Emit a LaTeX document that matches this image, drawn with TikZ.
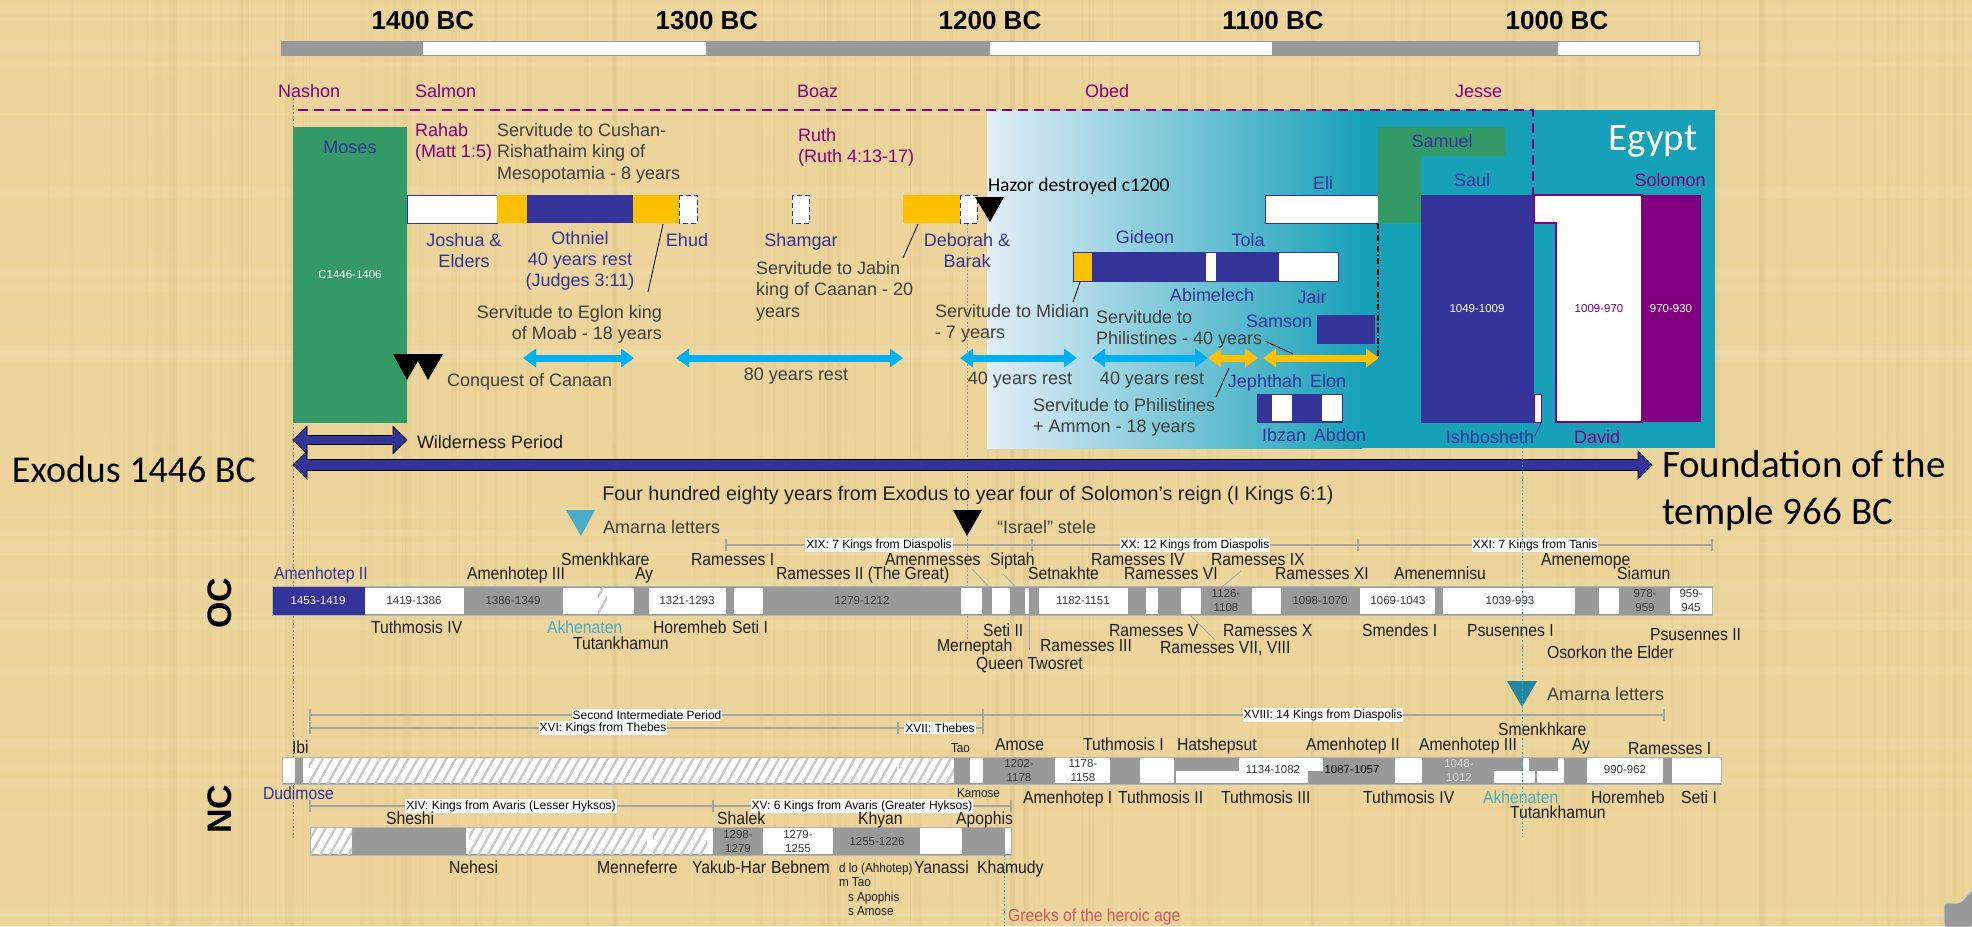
\documentclass[tikz,border=0pt]{standalone}
\usepackage{fontspec}
\setmainfont{Liberation Sans}
\newfontfamily\labfont[FakeStretch=0.9]{Liberation Sans}
\newfontfamily\calfont{Carlito}
\usetikzlibrary{arrows.meta}
\definecolor{paper}{RGB}{236,212,154}
\definecolor{fiber}{RGB}{190,160,95}
\definecolor{navy}{RGB}{51,51,153}
\definecolor{gold}{RGB}{255,192,0}
\definecolor{sky}{RGB}{0,176,240}
\definecolor{mgreen}{RGB}{51,153,102}
\definecolor{purp}{RGB}{128,0,128}
\definecolor{teal2}{RGB}{23,161,185}
\definecolor{eL}{RGB}{226,238,248}
\definecolor{gbar}{RGB}{153,153,153}
\definecolor{amar}{RGB}{75,172,198}
\definecolor{amar2}{RGB}{35,135,160}
\definecolor{txt}{RGB}{30,30,30}
\definecolor{dg}{RGB}{64,64,64}
\definecolor{ntxt}{RGB}{60,60,60}
\definecolor{redt}{RGB}{214,86,86}
\definecolor{brk}{RGB}{165,165,165}
\definecolor{hatchc}{RGB}{200,200,200}
\tikzset{
  bx/.style={inner sep=0pt, outer sep=0pt},
  ttop/.style={bx, font=\fontsize{18}{21.5}\selectfont},
  tlab/.style={bx, font=\labfont\fontsize{17.5}{20}\selectfont, text=txt},
  tsmall/.style={bx, font=\labfont\fontsize{13}{14.5}\selectfont, text=txt},
  tnum/.style={bx, font=\fontsize{11.5}{13.5}\selectfont, text=ntxt, align=center},
  tbr/.style={font=\fontsize{12}{14}\selectfont, text=black, fill=white, inner xsep=1pt, inner ysep=1.5pt},
  yr/.style={bx, font=\bfseries\fontsize{26}{28}\selectfont, anchor=base, yshift=-9.3pt},
  bw/.style={anchor=base west, yshift=-6.3pt},
  bc/.style={anchor=base, yshift=-6.3pt},
  be/.style={anchor=base east, yshift=-6.3pt},
  sbw/.style={anchor=base west, yshift=-4.6pt},
  dbox/.style={fill=white, draw=navy, line width=1pt, dash pattern=on 5pt off 3pt},
  sarrow/.style={line width=7pt, arrows={Triangle[width=18pt,length=13pt]-Triangle[width=18pt,length=13pt]}},
  leader/.style={line width=0.8pt, draw=black},
  gleader/.style={line width=0.8pt, draw=black!35},
  brkline/.style={draw=brk, line width=1.2pt},
}
\newcommand\hatchrect[4]{%
  \fill[white] (#1,#2) rectangle (#3,#4);
  \begin{scope}
    \clip (#1,#2) rectangle (#3,#4);
    \foreach \k in {0,9.5,...,650} \draw[hatchc, line width=2.3pt] ({#1-20+\k},#4+2) -- ++(18,-32);
  \end{scope}}
\begin{document}
\begin{tikzpicture}[x=1pt,y=-1pt]
\useasboundingbox (0,0) rectangle (1972,926);
\fill[paper] (0,0) rectangle (1972,926);
% papyrus fibres
\pgfmathsetseed{42}
\foreach \i in {1,...,140} {
  \pgfmathsetmacro\xx{rnd*1972}
  \pgfmathsetmacro\ww{1+rnd*5}
  \pgfmathsetmacro\oo{0.03+rnd*0.07}
  \fill[fiber, opacity=\oo] (\xx,0) rectangle ++(\ww,926);
}
\foreach \i in {1,...,40} {
  \pgfmathsetmacro\yy{rnd*926}
  \pgfmathsetmacro\hh{2+rnd*10}
  \pgfmathsetmacro\oo{0.03+rnd*0.05}
  \fill[white, opacity=\oo] (0,\yy) rectangle ++(1972,\hh);
}

% ---------- time scale
\fill[white] (281,41) rectangle (1699,55);
\fill[gbar] (281,41) rectangle (423,55);
\fill[gbar] (706,41) rectangle (990,55);
\fill[gbar] (1272,41) rectangle (1558,55);
\draw[gbar, line width=1pt] (281,41) rectangle (1699,55);
\node[yr] (y1400) at (423,20) {1400 BC};
\node[yr] (y1300) at (707,20) {1300 BC};
\node[yr] (y1200) at (990,20) {1200 BC};
\node[yr] (y1100) at (1273,20) {1100 BC};
\node[yr] (y1000) at (1557,20) {1000 BC};

% ---------- Egypt background
\shade[left color=eL, right color=teal2] (987,110) rectangle (1362,448);
\fill[teal2] (1361,110) rectangle (1715,448);
\node[bx, font=\calfont\fontsize{39}{42}\selectfont, text=white, anchor=base, yshift=-12.6pt] (egypt) at (1653,138) {Egypt};

% ---------- guide lines
\draw[black!55, line width=0.8pt, dash pattern=on 1.5pt off 2pt] (293,98) -- (293,837);
\draw[black!45, line width=0.8pt, dash pattern=on 1.5pt off 2pt] (967,224) -- (967,640);
\draw[purp, line width=1.5pt, dash pattern=on 10pt off 6pt] (298,110) -- (1533,110) -- (1533,195);
\draw[black, line width=1.2pt, dash pattern=on 6pt off 2pt on 1.5pt off 2pt] (1378,223) -- (1378,358);

% ---------- genealogy
\node[ttop, text=purp, bw] (nashon) at (278,91) {Nashon};
\node[ttop, text=purp, bw] (salmon) at (415,91) {Salmon};
\node[ttop, text=purp, bw] (boaz) at (797,91) {Boaz};
\node[ttop, text=purp, bw] (obed) at (1085,91) {Obed};
\node[ttop, text=purp, bw] (jesse) at (1455,91) {Jesse};
\node[ttop, text=purp, anchor=north west, align=left] (rahab) at (415,123.3) {Rahab\\(Matt 1:5)};
\node[ttop, text=purp, anchor=north west, align=left] (ruth) at (798,128.3) {Ruth\\(Ruth 4:13-17)};
\node[ttop, text=dg, anchor=north west, align=left] (cushan) at (497,123.3) {Servitude to Cushan-\\Rishathaim king of\\Mesopotamia - 8 years};

% ---------- Moses
\fill[mgreen] (293,127) rectangle (407,423);
\node[ttop, text=navy, bc] (moses) at (350,147) {Moses};
\node[tnum, text=white] (mosesd) at (350,275) {C1446-1406};

% ---------- judges row 1
\draw[navy, fill=white, line width=1pt] (407,195) rectangle (497,223);
\fill[gold] (497,195) rectangle (527,223);
\fill[navy] (527,195) rectangle (633,223);
\fill[gold] (633,195) rectangle (679,223);
\draw[dbox] (679,195) rectangle (697,223);
\draw[dbox] (792,195) rectangle (809,223);
\fill[gold] (903,195) rectangle (960,223);
\draw[dbox] (960,195) rectangle (977,223);
\fill[black] (975,197) -- (1004,197) -- (990,222) -- cycle;
\node[bx, font=\calfont\fontsize{19.5}{22}\selectfont, text=black, anchor=base west, yshift=-6.3pt] (hazor) at (988,185) {Hazor destroyed c1200};

\node[ttop, text=navy, anchor=north, align=center] (joshua) at (464,233.3) {Joshua \&\\Elders};
\node[ttop, text=navy, anchor=north, align=center, font=\fontsize{18}{21}\selectfont] (othniel) at (580,231.3) {Othniel\\40 years rest\\(Judges 3:11)};
\node[ttop, text=navy, bc] (ehud) at (687,240) {Ehud};
\node[ttop, text=navy, bc] (shamgar) at (801,240) {Shamgar};
\node[ttop, text=navy, anchor=north, align=center] (deborah) at (967,233.3) {Deborah \&\\Barak};
\node[ttop, text=dg, anchor=north west, align=left] (jabin) at (756,261.3) {Servitude to Jabin\\king of Caanan - 20\\years};
\node[ttop, text=dg, anchor=north east, align=right] (eglon) at (662,305.3) {Servitude to Eglon king\\of Moab - 18 years};
\draw[leader] (663,224) -- (648,292);
\draw[leader] (918,224) -- (903,258);

% ---------- Eli, Samuel, Saul, David, Solomon
\draw[navy, fill=white, line width=1pt] (1265,195) rectangle (1378,223);
\node[ttop, text=navy, bc] (eli) at (1323,183) {Eli};
\fill[mgreen] (1378,127) -- (1505,127) -- (1505,156) -- (1421,156) -- (1421,223) -- (1378,223) -- cycle;
\node[ttop, text=navy, bc] (samuel) at (1442,141) {Samuel};
\fill[navy] (1421,195) rectangle (1534,423);
\node[ttop, text=navy, bc] (saul) at (1472,180) {Saul};
\node[tnum, text=white] (sauld) at (1477,309) {1049-1009};
\draw[purp, fill=white, line width=1pt] (1534,394) rectangle (1541,422);
\draw[purp, fill=white, line width=1.2pt] (1534,195) -- (1642,195) -- (1642,422) -- (1556,422) -- (1556,223) -- (1534,223) -- cycle;
\node[tnum, text=purp] (davidd) at (1599,309) {1009-970};
\fill[purp] (1642,195) rectangle (1701,422);
\node[tnum, text=white] (solomond) at (1671,309) {970-930};
\node[ttop, text=purp, bc] (solomon) at (1670,180) {Solomon};
\node[ttop, text=navy, bc] (ishbo) at (1490,437) {Ishbosheth};
\node[ttop, text=purp, bc] (david) at (1597,437) {David};
\draw[leader, draw=navy] (1541,423) -- (1535,436);

% ---------- Gideon row
\fill[gold] (1073,252) rectangle (1092,281);
\fill[navy] (1092,252) rectangle (1206,281);
\fill[white] (1206,252) rectangle (1216,281);
\fill[navy] (1216,252) rectangle (1278,281);
\draw[navy, fill=white, line width=1pt] (1278,252) rectangle (1338,281);
\draw[navy, line width=1pt] (1073,252) rectangle (1338,281);
\node[ttop, text=navy, bc] (gideon) at (1145,237) {Gideon};
\node[ttop, text=navy, bc] (tola) at (1248,240) {Tola};
\node[ttop, text=navy, bc] (abimelech) at (1212,295) {Abimelech};
\node[ttop, text=navy, bc] (jair) at (1312,297) {Jair};
\draw[leader] (1080,282) -- (1073,302);
\node[ttop, text=dg, anchor=north west, align=left] (midian) at (935,304.3) {Servitude to Midian\\- 7 years};

% ---------- Samson
\fill[navy] (1317,315) rectangle (1375,344);
\node[ttop, text=navy, bc] (samson) at (1279,321) {Samson};
\node[ttop, text=dg, anchor=north west, align=left] (phil40) at (1096,310.3) {Servitude to\\Philistines - 40 years};
\draw[leader] (1265,341) -- (1293,354);

% ---------- arrows row
\draw[sarrow, sky] (523,358) -- (634,358);
\draw[sarrow, sky] (676,358) -- (903,358);
\draw[sarrow, sky] (960,358) -- (1077,358);
\draw[sarrow, sky] (1092,358) -- (1208,358);
\draw[sarrow, gold] (1208,358) -- (1258,358);
\draw[sarrow, gold] (1263,358) -- (1379,358);
\fill[black] (393,354) -- (422,354) -- (407,380) -- cycle;
\fill[black] (414,354) -- (443,354) -- (428,380) -- cycle;
\node[ttop, text=dg, bw] (conquest) at (447,380) {Conquest of Canaan};
\node[ttop, text=dg, bc] (rest80) at (796,374) {80 years rest};
\node[ttop, text=dg, bc] (rest40a) at (1020,378) {40 years rest};
\node[ttop, text=dg, bc] (rest40b) at (1152,378) {40 years rest};
\node[ttop, text=dg, anchor=north west, align=left] (ammon) at (1033,398.3) {Servitude to Philistines\\+ Ammon - 18 years};
\draw[leader] (1229,368) -- (1216,397);
\node[ttop, text=navy, bc] (jephthah) at (1265,381) {Jephthah};
\node[ttop, text=navy, bc] (elon) at (1328,381) {Elon};
\fill[navy] (1257,394) rectangle (1342,422);
\fill[white] (1272,395) rectangle (1292,421);
\fill[white] (1322,395) rectangle (1342,421);
\draw[navy, line width=1pt] (1257,394) rectangle (1342,422);
\node[ttop, text=navy, bc] (ibzan) at (1284,435) {Ibzan};
\node[ttop, text=navy, bc] (abdon) at (1340,435) {Abdon};

% ---------- wilderness and 480-year arrows
\filldraw[fill=navy, draw=black, line width=0.8pt] (293,440) -- (307,426.5) -- (307,435.5) -- (393,435.5) -- (393,426.5) -- (407,440) -- (393,453.5) -- (393,444.5) -- (307,444.5) -- (307,453.5) -- cycle;
\node[ttop, text=txt, bw] (wild) at (417,442) {Wilderness Period};
\filldraw[fill=navy, draw=black, line width=0.8pt] (293,465) -- (307,451) -- (307,459.5) -- (1638,459.5) -- (1638,451) -- (1652,465) -- (1638,479) -- (1638,470.5) -- (307,470.5) -- (307,479) -- cycle;
\node[bx, font=\calfont\fontsize{38}{42}\selectfont, text=black, anchor=base west, yshift=-12.2pt] (exodus) at (12,470) {Exodus 1446 BC};
\node[bx, font=\calfont\fontsize{39}{42}\selectfont, text=black, anchor=base west, yshift=-12.6pt] (found1) at (1662,465) {Foundation of the};
\node[bx, font=\calfont\fontsize{39}{42}\selectfont, text=black, anchor=base west, yshift=-12.6pt] (found2) at (1662,511.5) {temple 966 BC};
\node[bx, font=\fontsize{19.7}{23}\selectfont, text=txt, anchor=base, yshift=-7.1pt] (four) at (968,493) {Four hundred eighty years from Exodus to year four of Solomon’s reign (I Kings 6:1)};

% ---------- OC section
\node[bx, font=\bfseries\fontsize{34}{36}\selectfont, rotate=90] (oc) at (220,603) {OC};
\fill[amar] (566,510) -- (595,510) -- (581,536) -- cycle;
\node[ttop, text=dg, bw] (amarna1) at (603,527) {Amarna letters};
\fill[black] (953,510) -- (982,510) -- (967,536) -- cycle;
\node[ttop, text=dg, bw] (israel) at (997,527) {“Israel” stele};

\draw[brkline] (726,545) -- (1712,545);
\foreach \x in {726,1032,1358,1712} \draw[brkline] (\x,539) -- (\x,551);
\node[tbr] (xix) at (879,545) {XIX: 7 Kings from Diaspolis};
\node[tbr] (xx) at (1195,545) {XX: 12 Kings from Diaspolis};
\node[tbr] (xxi) at (1535,545) {XXI: 7 Kings from Tanis};

\fill[gbar] (272,586) rectangle (1712,615);
\fill[navy] (272,586) rectangle (365,615);
\foreach \a/\b in {365/464, 563/598, 607/634, 649/726, 734/763, 961/982, 992/1010, 1025/1029, 1039/1128, 1146/1158, 1181/1201, 1252/1281, 1360/1435, 1443/1575, 1599/1619, 1670/1712}
  \fill[white] (\a,587.5) rectangle (\b,613.5);
\hatchrect{598}{587.5}{607}{613.5}
\draw[black!30, line width=1pt] (272,586) rectangle (1712,615);
\node[tnum, text=white] (oc1) at (318,600.5) {1453-1419};
\node[tnum] (oc2) at (414,600.5) {1419-1386};
\node[tnum] (oc3) at (513,600.5) {1386-1349};
\node[tnum] (oc4) at (687,600.5) {1321-1293};
\node[tnum] (oc5) at (862,600.5) {1279-1212};
\node[tnum] (oc6) at (1083,600.5) {1182-1151};
\node[tnum] (oc7) at (1226,600.5) {1126-\\1108};
\node[tnum] (oc8) at (1320,600.5) {1098-1070};
\node[tnum] (oc9) at (1398,600.5) {1069-1043};
\node[tnum] (oc10) at (1510,600.5) {1039-993};
\node[tnum] (oc11) at (1645,600.5) {978-\\959};
\node[tnum] (oc12) at (1691,600.5) {959-\\945};

% labels above OC bar
\node[tlab, bw] (ocsmen) at (561,559) {Smenkhkare};
\node[tlab, bw] (ocram1) at (691,559) {Ramesses I};
\node[tlab, bw] (amenmes) at (885,559) {Amenmesses};
\node[tlab, bw] (siptah) at (990,559) {Siptah};
\node[tlab, bw] (ram4) at (1091,559) {Ramesses IV};
\node[tlab, bw] (ram9) at (1211,559) {Ramesses IX};
\node[tlab, bw] (amenemope) at (1541,559) {Amenemope};
\node[tlab, bw, text=navy] (ocamen2) at (274,573) {Amenhotep II};
\node[tlab, bw] (ocamen3) at (467,573) {Amenhotep III};
\node[tlab, bw] (ocay) at (635,573) {Ay};
\node[tlab, bw] (ram2) at (776,573) {Ramesses II (The Great)};
\node[tlab, bw] (setnakhte) at (1028,573) {Setnakhte};
\node[tlab, bw] (ram6) at (1124,573) {Ramesses VI};
\node[tlab, bw] (ram11) at (1275,573) {Ramesses XI};
\node[tlab, bw] (amenemnisu) at (1394,573) {Amenemnisu};
\node[tlab, bw] (siamun) at (1617,573) {Siamun};
\draw[gleader] (972,569) -- (988,586);
\draw[gleader] (1003,574) -- (1015,586);
\draw[gleader] (1241,571) -- (1223,586);

% labels below OC bar
\node[tlab, bw] (octuth4) at (371,627) {Tuthmosis IV};
\node[tlab, bw, text=amar] (ocakh) at (547,627) {Akhenaten};
\node[tlab, bw] (ochorem) at (653,627) {Horemheb};
\node[tlab, bw] (ocseti1) at (732,627) {Seti I};
\node[tlab, bw] (seti2) at (983,630) {Seti II};
\node[tlab, bw] (ram5) at (1109,630) {Ramesses V};
\node[tlab, bw] (ram10) at (1223,630) {Ramesses X};
\node[tlab, bw] (smendes) at (1362,630) {Smendes I};
\node[tlab, bw] (psus1) at (1467,630) {Psusennes I};
\node[tlab, bw] (psus2) at (1650,634) {Psusennes II};
\node[tlab, bw] (octut) at (573,643) {Tutankhamun};
\node[tlab, bw] (merneptah) at (937,645) {Merneptah};
\node[tlab, bw] (ram3) at (1040,645) {Ramesses III};
\node[tlab, bw] (ram78) at (1160,647) {Ramesses VII, VIII};
\node[tlab, bw] (osorkon) at (1547,652) {Osorkon the Elder};
\node[tlab, bw] (twosret) at (976,663) {Queen Twosret};
\draw[gleader] (1029,615) -- (1029,650);
\draw[gleader] (1190,615) -- (1215,640);

% ---------- NC section
\node[bx, font=\bfseries\fontsize{34}{36}\selectfont, rotate=90] (nc) at (220,809) {NC};
\fill[amar2] (1507,681) -- (1537,681) -- (1522,707) -- cycle;
\node[ttop, text=dg, bw] (amarna2) at (1547,694) {Amarna letters};

\draw[brkline] (310,715) -- (1664,715);
\foreach \x in {310,983,1664} \draw[brkline] (\x,709) -- (\x,721);
\draw[brkline] (310,728) -- (983,728);
\foreach \x in {310,898,983} \draw[brkline] (\x,722) -- (\x,734);
\node[tbr] (sip) at (647,715) {Second Intermediate Period};
\node[tbr] (xviii) at (1323,715) {XVIII: 14 Kings from Diaspolis};
\node[tbr] (xvi) at (603,728) {XVI: Kings from Thebes};
\node[tbr] (xvii) at (940,728) {XVII: Thebes};

\fill[gbar] (282,757) rectangle (1721,784);
\foreach \a/\b in {282/295, 303/309, 897/899, 970/983, 1055/1110, 1140/1174, 1239/1308, 1395/1422, 1587/1663, 1672/1721}
  \fill[white] (\a,758) rectangle (\b,783);
\foreach \a/\b in {1308/1323, 1523/1529, 1558/1564}
  \fill[white] (\a,758) rectangle (\b,771);
\foreach \a/\b in {1176/1239, 1494/1535, 1537/1564}
  \fill[white] (\a,771) rectangle (\b,783);
\hatchrect{309}{758}{897}{783}
\hatchrect{899}{758}{954}{783}
\draw[black!30, line width=1pt] (282,757) rectangle (1721,784);
\node[tnum] (nc1) at (1019,770.5) {1202-\\1178};
\node[tnum] (nc2) at (1083,770.5) {1178-\\1158};
\node[tnum] (nc3) at (1273,770) {1134-1082};
\node[tnum, text=black] (nc4) at (1352,770) {1087-1057};
\node[tnum, text=white!85!black] (nc5) at (1459,770.5) {1048-\\1012};
\node[tnum] (nc6) at (1625,770) {990-962};

% labels above NC bar
\node[tlab, bw] (ibi) at (292,747) {Ibi};
\node[tsmall, sbw] (tao) at (951,748) {Tao};
\node[tlab, bw] (amose) at (995,744) {Amose};
\node[tlab, bw] (tuth1) at (1083,744) {Tuthmosis I};
\node[tlab, bw] (hatsh) at (1177,744) {Hatshepsut};
\node[tlab, bw] (ncamen2) at (1306,744) {Amenhotep II};
\node[tlab, bw] (ncamen3) at (1419,744) {Amenhotep III};
\node[tlab, bw] (ncsmen) at (1498,729) {Smenkhkare};
\node[tlab, bw] (ncay) at (1572,744) {Ay};
\node[tlab, bw] (ncram1) at (1628,748) {Ramesses I};

% labels below NC bar
\node[tlab, bw, text=navy] (dudimose) at (263,793) {Dudimose};
\node[tsmall, sbw] (kamose) at (957,793) {Kamose};
\node[tlab, bw] (amen1) at (1023,797) {Amenhotep I};
\node[tlab, bw] (tuth2) at (1118,797) {Tuthmosis II};
\node[tlab, bw] (tuth3) at (1221,797) {Tuthmosis III};
\node[tlab, bw] (nctuth4) at (1363,797) {Tuthmosis IV};
\node[tlab, bw, text=amar] (ncakh) at (1483,797) {Akhenaten};
\node[tlab, bw] (nctut) at (1510,812) {Tutankhamun};
\node[tlab, bw] (nchorem) at (1591,797) {Horemheb};
\node[tlab, bw] (ncseti1) at (1681,797) {Seti I};

% Hyksos bar
\draw[brkline] (310,806) -- (1011,806);
\foreach \x in {310,713,1011} \draw[brkline] (\x,800) -- (\x,812);
\node[tbr] (xiv) at (511,806) {XIV: Kings from Avaris (Lesser Hyksos)};
\node[tbr] (xv) at (862,806) {XV: 6 Kings from Avaris (Greater Hyksos)};

\fill[gbar] (310,827) rectangle (1011,855);
\foreach \a/\b in {466/469, 647/653, 707/713, 763/833, 920/962, 1005/1011}
  \fill[white] (\a,828) rectangle (\b,854);
\hatchrect{311}{828}{352}{854}
\hatchrect{469}{828}{647}{854}
\hatchrect{653}{828}{707}{854}
\draw[black!30, line width=1pt] (310,827) rectangle (1011,855);
\node[tnum] (hy1) at (738,841.5) {1298-\\1279};
\node[tnum] (hy2) at (798,841.5) {1279-\\1255};
\node[tnum] (hy3) at (877,842) {1255-1226};

\node[tlab, bw] (sheshi) at (386,818) {Sheshi};
\node[tlab, bw] (shalek) at (717,818) {Shalek};
\node[tlab, bw] (khyan) at (858,818) {Khyan};
\node[tlab, bw] (apophis) at (956,818) {Apophis};
\node[tlab, bw] (nehesi) at (449,867) {Nehesi};
\node[tlab, bw] (menneferre) at (597,867) {Menneferre};
\node[tlab, bw] (yakub) at (692,867) {Yakub-Har};
\node[tlab, bw] (bebnem) at (771,867) {Bebnem};
\node[tlab, bw] (yanassi) at (914,867) {Yanassi};
\node[tlab, bw] (khamudy) at (977,867) {Khamudy};
\node[tsmall, sbw] (dlo) at (839,868) {d lo (Ahhotep)};
\node[tsmall, sbw] (mtao) at (839,882) {m Tao};
\node[tsmall, sbw] (sapo) at (848,897) {s Apophis};
\node[tsmall, sbw] (samose) at (848,911) {s Amose};

% cyan guide lines
\draw[sky, line width=1pt, dash pattern=on 1.5pt off 2pt] (1522,423) -- (1522,837);
\draw[sky, line width=1pt, dash pattern=on 1.5pt off 2pt] (1004,855) -- (1004,926);
\node[tlab, bw, text=redt] (greeks) at (1008,915) {Greeks of the heroic age};

% corner icon
\filldraw[fill=black!40, draw=white!80!black, line width=1pt, rounded corners=3pt] (1944,927) -- (1944,903) -- (1960,903) -- (1973,889) -- (1973,927) -- cycle;
\end{tikzpicture}
\end{document}
